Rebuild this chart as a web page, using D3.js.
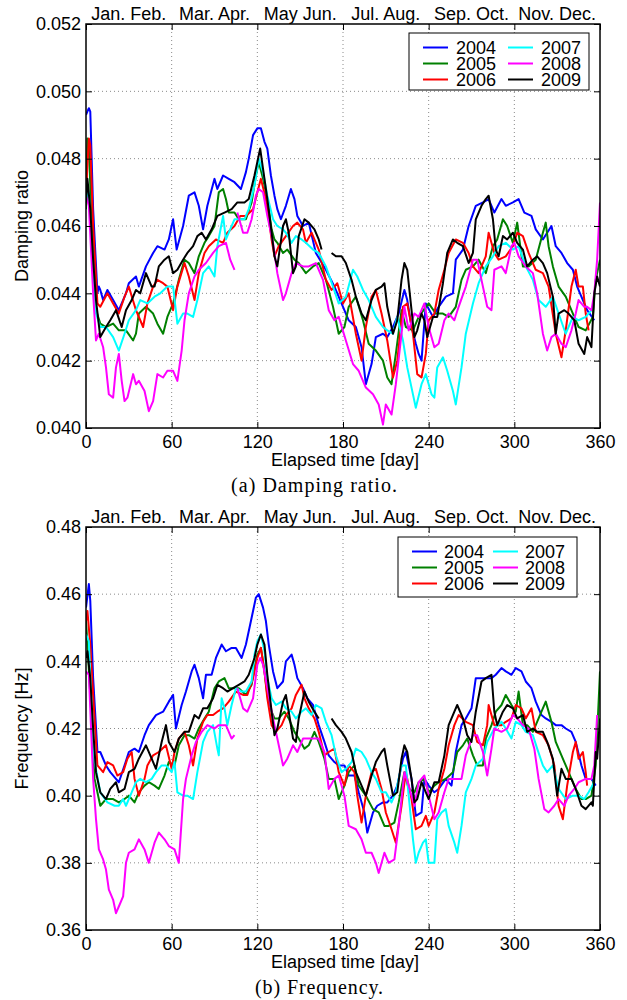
<!DOCTYPE html>
<html>
<head>
<meta charset="utf-8">
<style>
	body { margin: 0; background: #fff; }
	svg text { font-family: "Liberation Sans", Arial, Helvetica, sans-serif; fill: #000; }
	svg text.caption { font-family: "Liberation Serif", "Times New Roman", serif; }
</style>
</head>
<body>
<svg class="chart" width="627" height="1000"></svg>

<script src="https://d3js.org/d3.v7.min.js"></script>
<script>

// damping ratio, [day, value] per year
var damp2004 = [[0,.0493],[2,.0495],[3,.0494],[5,.0465],[8,.0440],[9,.0442],[10,.0441],[12,.0438],[15,.0441],[19,.0438],[23,.0435],[28,.0440],[30,.0443],[35,.0445],[37,.0442],[42,.0448],[47,.0452],[50,.0454],[55,.0453],[58,.0456],[61,.0462],[63.5,.0453],[68,.0460],[72,.0469],[76,.0470],[79,.0466],[82,.0459],[85,.0466],[90,.0474],[92,.0471],[96,.0475],[100,.0474],[104,.0473],[108.5,.0471],[112,.0476],[114,.0480],[117,.0487],[120,.0489],[122.5,.0489],[125,.0485],[127,.0483],[129.5,.0475],[132,.0469],[134,.0465],[136.5,.0462],[140,.0466],[143.5,.0471],[146,.0468],[148,.0463],[152,.0460],[156,.0461],[161,.0452],[168,.0447],[174,.0442],[180,.0436],[184,.0432],[189,.0430],[193,.0424],[196,.0413],[200,.0419],[203,.0427],[208,.0428],[211,.0427],[215,.0430],[219,.0434],[223,.0441],[225,.0438],[228,.0430],[231,.0425],[233,.0422],[235,.0420],[238,.0437],[243,.0433],[247,.0436],[252,.0439],[257,.0440],[259,.0450],[264,.0453],[268,.0460],[273,.0466],[278,.0467],[282,.0468],[286,.0464],[291,.0468],[294,.0466],[299,.0467],[303,.0468],[307,.0464],[312,.0463],[315,.0459],[320,.0456],[326,.0460],[329,.0454],[333,.0452],[337,.0449],[341,.0447],[344,.0442],[348,.0438],[351,.0435],[356,.0432]];
var damp2005 = [[0,.0465],[1,.0486],[2,.0484],[4,.0460],[7,.0435],[10,.0431],[14,.0430],[19,.0431],[23,.0429],[28,.0429],[33,.0426],[35,.0428],[37,.0434],[42,.0436],[47,.0434],[50,.0431],[54,.0428],[57,.0433],[61,.0437],[65,.0444],[69,.0450],[72,.0449],[76,.0446],[79,.0451],[83,.0455],[86,.0457],[90,.0460],[93,.0470],[96,.0471],[98,.0468],[100,.0464],[104,.0464],[107,.0462],[112,.0462],[116,.0467],[119,.0475],[121,.0479],[124,.0474],[127,.0468],[130,.0459],[132,.0456],[134,.0455],[138,.0452],[141,.0453],[146,.0450],[149,.0449],[154,.0446],[159,.0448],[163,.0449],[168,.0444],[173,.0436],[177,.0428],[181,.0430],[184,.0436],[189,.0439],[194,.0432],[198,.0425],[203,.0423],[208,.0420],[211,.0415],[214,.0413],[217,.0422],[221,.0435],[224,.0430],[229,.0429],[233,.0433],[238,.0436],[240,.0437],[245,.0434],[250,.0434],[254,.0433],[259,.0436],[263,.0444],[266,.0447],[271,.0448],[275,.0450],[280,.0446],[285,.0454],[288,.0456],[292,.0462],[295,.0460],[299,.0455],[302,.0461],[306,.0448],[310,.0448],[315,.0450],[320,.0458],[322,.0461],[324,.0454],[327,.0448],[331,.0442],[336,.0439],[341,.0434],[345,.0430],[350,.0429],[355,.0433],[357,.0444],[360,.0450]];
var damp2006 = [[0,.0470],[2,.0486],[3,.0484],[5,.0460],[8,.0437],[10,.0436],[15,.0440],[19,.0437],[23,.0434],[27,.0439],[30,.0442],[35,.0435],[40,.0430],[43,.0437],[47,.0442],[50,.0444],[54,.0443],[57,.0442],[61,.0435],[64,.0442],[69,.0449],[72,.0445],[76,.0438],[79,.0446],[83,.0452],[86,.0454],[91,.0456],[96,.0455],[99,.0458],[104,.0460],[108,.0463],[112,.0463],[117,.0465],[120,.0470],[122.5,.0474],[126,.0468],[130,.0456],[132,.0451],[135,.0454],[140,.0457],[145,.0460],[148,.0461],[152,.0459],[154,.0455],[158,.0458],[161,.0455],[163,.0453],[168,.0444],[172,.0441],[176,.0443],[180,.0437],[184,.0440],[189,.0428],[193,.0420],[196,.0430],[200,.0439],[203,.0441],[207,.0434],[211,.0426],[215,.0415],[218,.0420],[222,.0436],[225,.0437],[229,.0428],[232,.0416],[235,.0415],[238,.0422],[240,.0432],[244,.0434],[247,.0441],[251,.0447],[254,.0452],[259,.0456],[264,.0455],[268,.0452],[271,.0448],[275,.0446],[280,.0451],[282,.0458],[286,.0452],[289,.0450],[294,.0451],[299,.0454],[302,.0458],[306,.0457],[310,.0452],[315,.0447],[320,.0446],[324,.0442],[329,.0428],[333,.0421],[336,.0429],[340,.0442],[343,.0447],[345,.0442],[348,.0442],[350,.0434],[352,.0429]];
var damp2007 = [[0,.0468],[2,.0470],[4,.0455],[7,.0434],[10,.0430],[14,.0430],[19,.0427],[23,.0423],[27,.0428],[30,.0432],[35,.0435],[38,.0438],[43,.0437],[48,.0439],[52,.0440],[57,.0442],[61,.0442],[64,.0431],[68,.0434],[71,.0434],[75,.0433],[78,.0438],[82,.0446],[86,.0448],[90,.0445],[92,.0454],[96,.0463],[98,.0456],[100,.0458],[104,.0462],[107,.0462],[111,.0462],[114,.0465],[118,.0472],[121,.0480],[124,.0476],[127,.0469],[131,.0462],[134,.0460],[138,.0459],[140,.0458],[144,.0455],[147,.0457],[151,.0456],[154,.0455],[159,.0453],[163,.0452],[168,.0448],[173,.0442],[177,.0437],[182,.0439],[187,.0447],[190,.0445],[194,.0441],[198,.0438],[203,.0433],[208,.0430],[211,.0429],[215,.0428],[218,.0433],[222,.0426],[225,.0418],[229,.0410],[231,.0406],[235,.0413],[238,.0416],[242,.0410],[244,.0409],[246,.0418],[250,.0421],[253,.0417],[257,.0411],[259,.0407],[263,.0418],[266,.0428],[271,.0437],[275,.0443],[280,.0448],[285,.0451],[289,.0454],[294,.0455],[299,.0453],[303,.0454],[308,.0448],[313,.0444],[317,.0438],[322,.0436],[327,.0439],[331,.0434],[336,.0428],[341,.0433],[345,.0432],[350,.0433],[354,.0435]];
var damp2008 = [[0,.0469],[2,.0466],[5,.0440],[7,.0426],[9,.0428],[12,.0424],[14,.0418],[16,.0410],[19,.0409],[21,.0418],[23,.0422],[25,.0414],[27,.0408],[29,.0409],[33,.0416],[35,.0413],[37,.0414],[41,.0411],[44,.0405],[47,.0408],[50,.0416],[54,.0415],[57,.0417],[61,.0417],[64,.0414],[67,.0423],[69,.0432],[72,.0440],[76,.0445],[79,.0447],[84,.0449],[89,.0452],[93,.0454],[98,.0455],[101,.0450],[104,.0447],[105,null],[106,.0464],[110,.0458],[113,.0458],[116,.0462],[119,.0469],[121,.0471],[124,.0470],[127,.0463],[131,.0455],[134,.0446],[138,.0438],[140,.0440],[144,.0446],[147,.0449],[152,.0448],[156,.0448],[161,.0449],[166,.0444],[170,.0435],[174,.0432],[177,.0433],[182,.0426],[187,.0419],[191,.0417],[196,.0412],[201,.0410],[205,.0407],[208,.0401],[210,.0407],[214,.0404],[217,.0413],[221,.0428],[223,.0436],[226,.0429],[230,.0434],[233,.0433],[237,.0437],[240,.0430],[244,.0424],[247,.0425],[251,.0432],[254,.0434],[258,.0432],[261,.0436],[266,.0442],[271,.0450],[274,.0450],[278,.0442],[281,.0436],[284,.0435],[286,.0447],[291,.0448],[294,.0446],[298,.0454],[300,.0455],[303,.0451],[308,.0448],[313,.0446],[316,.0440],[320,.0428],[323,.0423],[326,.0427],[329,.0428],[333,.0425],[336,.0424],[340,.0429],[343,.0434],[345,.0438],[349,.0436],[351,.0436],[354,.0435],[356,.0440],[358,.0450],[360,.0467]];
var damp2009 = [[0,.0467],[1,.0474],[3,.0465],[5,.0450],[7,.0438],[10,.0427],[14,.0430],[17,.0432],[21,.0435],[25,.0430],[28,.0435],[32,.0438],[35,.0441],[38,.0440],[42,.0446],[46,.0442],[48,.0442],[51,.0448],[55,.0450],[58,.0451],[61,.0446],[64,.0447],[68,.0450],[71,.0452],[75,.0454],[78,.0457],[81,.0458],[84,.0456],[88,.0459],[92,.0463],[97,.0464],[102,.0465],[106,.0467],[111,.0467],[114,.0468],[118,.0475],[120,.0479],[122,.0483],[124,.0477],[127,.0468],[130,.0458],[132,.0451],[134,.0448],[138,.0460],[140,.0462],[142,.0458],[145,.0446],[147,.0448],[149,.0457],[153,.0462],[156,.0461],[160,.0459],[163,.0456],[165,.0453],[168,null],[172,.0452],[175,.0451],[179,.0451],[182,.0449],[186,.0444],[189,.0439],[193,.0434],[196,.0432],[200,.0438],[203,.0441],[207,.0442],[209,.0443],[211,.0436],[215,.0428],[218,.0432],[221,.0444],[223,.0449],[225,.0447],[228,.0435],[230,.0427],[232,.0429],[235,.0434],[237,.0432],[239,.0427],[243,.0433],[246,.0433],[250,.0443],[253,.0452],[257,.0456],[260,.0455],[264,.0454],[268,.0449],[271,.0452],[273,.0462],[277,.0466],[280,.0468],[282,.0469],[285,.0462],[287,.0453],[289,.0451],[292,.0457],[295,.0456],[299,.0458],[302,.0455],[306,.0453],[309,.0448],[313,.0450],[316,.0451],[320,.0449],[323,.0446],[327,.0439],[329,.0428],[331,.0434],[335,.0435],[338,.0434],[342,.0432],[345,.0425],[349,.0422],[351,.0427],[354,.0424],[356,.0440],[358,.0445],[360,.0442]];

// frequency [Hz], [day, value] per year
var freq2004 = [[0,.456],[2,.463],[3,.458],[5,.435],[8,.413],[10,.413],[14,.409],[17,.407],[21,.405],[23,.404],[27,.409],[30,.413],[34,.414],[37,.413],[41,.418],[44,.421],[49,.424],[54,.425],[58,.428],[61,.430],[63,.420],[67,.427],[70,.431],[74,.437],[76,.439],[79,.435],[82,.429],[84,.436],[88,.436],[91,.441],[95,.445],[98,.443],[102,.444],[105,.444],[109,.441],[112,.445],[116,.453],[119,.459],[121,.460],[124,.456],[126,.452],[128,.445],[131,.437],[134,.432],[138,.434],[140,.440],[144,.442],[146,.439],[148,.435],[152,.432],[155,.429],[159,.427],[163,.421],[167,.416],[170,.412],[174,.410],[177,.409],[181,.409],[184,.406],[188,.406],[191,.401],[195,.395],[197,.389],[201,.395],[204,.397],[208,.398],[211,.398],[215,.400],[218,.403],[222,.411],[224,.413],[228,.405],[231,.394],[235,.395],[237,.405],[240,.403],[244,.401],[247,.402],[252,.405],[256,.403],[259,.413],[263,.421],[266,.423],[270,.426],[273,.435],[277,.435],[280,.435],[284,.435],[287,.436],[291,.438],[294,.437],[298,.436],[301,.438],[305,.437],[308,.434],[312,.432],[315,.428],[319,.424],[322,.423],[326,.422],[329,.421],[333,.421],[336,.420],[340,.419],[343,.416],[347,.409],[350,.405],[354,.405],[357,.403]];
var freq2005 = [[0,.452],[1,.445],[3,.430],[6,.405],[10,.397],[14,.399],[19,.399],[23,.398],[27,.399],[30,.400],[34,.398],[37,.401],[41,.403],[44,.404],[48,.403],[51,.402],[55,.406],[58,.410],[62,.409],[65,.415],[69,.418],[72,.418],[76,.417],[79,.420],[83,.423],[86,.425],[90,.432],[93,.434],[97,.435],[100,.432],[104,.432],[107,.432],[112,.430],[116,.433],[118,.438],[120,.442],[122.5,.444],[125,.437],[127,.430],[130,.425],[132,.423],[135,.423],[139,.425],[142,.423],[146,.419],[149,.417],[153,.414],[156,.415],[160,.419],[163,.416],[167,.411],[170,.405],[174,.405],[177,.399],[181,.403],[184,.407],[188,.409],[191,.403],[196,.400],[201,.396],[205,.395],[209,.391],[212,.391],[216,.392],[219,.398],[223,.407],[226,.402],[230,.401],[233,.404],[237,.405],[240,.401],[244,.403],[247,.404],[252,.405],[257,.407],[260,.413],[264,.415],[267,.417],[271,.412],[274,.409],[278,.409],[280,.417],[284,.421],[287,.425],[291,.427],[294,.430],[298,.427],[301,.425],[303,.431],[306,.421],[309,.421],[313,.419],[317,.423],[322,.428],[326,.422],[329,.416],[333,.412],[336,.409],[340,.405],[343,.402],[347,.399],[350,.399],[354,.400],[357,.409],[360,.437]];
var freq2006 = [[0,.452],[1,.455],[3,.445],[5,.430],[8,.409],[12,.407],[15,.410],[19,.409],[22,.406],[26,.407],[29,.411],[32,.413],[34,.405],[37,.400],[41,.405],[43,.409],[47,.412],[51,.413],[56,.415],[60,.408],[62,.413],[65,.417],[69,.419],[72,.415],[75,.409],[78,.417],[82,.422],[85,.424],[89,.424],[92,.425],[96,.426],[100,.428],[105,.431],[110,.430],[113,.430],[117,.435],[120,.441],[122.5,.444],[125,.437],[127,.429],[130,.421],[133,.419],[137,.421],[140,.424],[144,.426],[147,.430],[151,.433],[153,.429],[156,.426],[160,.423],[163,.419],[167,.412],[170,.413],[174,.414],[177,.407],[181,.403],[184,.409],[188,.407],[190,.400],[193,.392],[196,.400],[200,.407],[203,.408],[207,.402],[210,.395],[214,.390],[217,.386],[221,.397],[224,.407],[228,.399],[231,.390],[235,.391],[238,.394],[240,.391],[244,.395],[247,.402],[251,.408],[254,.415],[258,.421],[261,.424],[266,.422],[271,.421],[274,.416],[278,.415],[281,.421],[282,.427],[286,.421],[291,.421],[294,.422],[298,.423],[301,.427],[305,.426],[308,.423],[312,.426],[315,.419],[320,.418],[324,.415],[328,.409],[331,.397],[334,.393],[337,.403],[341,.413],[343,.416],[345,.411],[348,.413],[350,.407],[351,.403]];
var freq2007 = [[0,.448],[2,.446],[4,.425],[6,.410],[10,.401],[15,.398],[20,.397],[23,.397],[26,.399],[28,.397],[32,.401],[35,.404],[38,.405],[42,.404],[46,.405],[49,.407],[53,.409],[56,.409],[60,.407],[62,.410],[64,.401],[68,.400],[71,.400],[75,.399],[78,.407],[82,.416],[85,.419],[89,.421],[92,.414],[93,.412],[95,.429],[97,.426],[99,.421],[102,.427],[105,.432],[109,.431],[112,.431],[116,.434],[118,.442],[120,.446],[122.5,.448],[125,.443],[127,.435],[130,.429],[133,.427],[137,.428],[140,.426],[144,.425],[147,.423],[151,.425],[154,.426],[158,.424],[161,.427],[165,.426],[168,.422],[172,.418],[175,.412],[179,.407],[182,.408],[186,.410],[189,.414],[193,.413],[196,.411],[200,.407],[203,.405],[207,.401],[210,.401],[214,.398],[217,.401],[221,.409],[224,.409],[226,.400],[229,.387],[231,.380],[233,.383],[236,.386],[238,.387],[240,.380],[244,.380],[246,.393],[249,.395],[252,.396],[254,.391],[258,.386],[260,.383],[263,.391],[266,.401],[270,.405],[273,.409],[278,.411],[281,.416],[286,.420],[291,.422],[294,.420],[298,.417],[301,.422],[305,.421],[308,.419],[313,.418],[316,.414],[320,.409],[323,.407],[327,.409],[331,.402],[336,.399],[341,.400],[345,.400],[349,.399],[352,.401],[356,.404]];
var freq2008 = [[0,.437],[2,.436],[5,.405],[7,.393],[9,.384],[12,.381],[14,.378],[16,.372],[19,.369],[21,.365],[23,.367],[26,.370],[28,.380],[30,.383],[34,.384],[37,.387],[41,.384],[44,.380],[48,.386],[51,.389],[55,.387],[58,.385],[62,.384],[65,.380],[68,.399],[70,.405],[74,.412],[77,.416],[81,.419],[85,.421],[90,.420],[93,.421],[98,.421],[102,.417],[104,.418],[105,null],[106,.432],[110,.426],[113,.425],[117,.429],[120,.439],[122,.441],[124,.439],[127,.432],[131,.423],[134,.417],[138,.409],[141,.411],[145,.415],[148,.413],[152,.417],[155,.417],[159,.417],[163,.417],[167,.413],[170,.402],[174,.405],[177,.406],[181,.400],[184,.391],[189,.390],[193,.387],[196,.383],[200,.383],[203,.380],[205,.377],[209,.383],[212,.380],[216,.381],[219,.391],[223,.407],[226,.403],[230,.397],[233,.404],[237,.406],[240,.400],[244,.393],[247,.395],[251,.401],[254,.405],[259,.405],[263,.405],[266,.412],[271,.418],[274,.418],[278,.413],[281,.406],[284,.414],[286,.420],[291,.419],[295,.420],[299,.424],[302,.423],[306,.421],[310,.420],[314,.414],[317,.405],[321,.396],[324,.395],[328,.397],[331,.399],[335,.397],[338,.400],[342,.402],[345,.404],[350,.405],[354,.405],[356,.409],[358,.424]];
var freq2009 = [[0,.441],[1,.443],[3,.435],[5,.420],[7,.407],[10,.401],[14,.399],[17,.402],[21,.404],[23,.401],[27,.402],[30,.407],[34,.408],[37,.411],[42,.415],[46,.411],[49,.408],[53,.416],[56,.421],[58,.416],[62,.413],[65,.417],[69,.419],[72,.419],[76,.424],[79,.423],[82,.426],[85,.426],[89,.429],[92,.433],[96,.432],[99,.431],[103,.432],[107,.433],[111,.434],[114,.436],[118,.441],[120,.445],[122.5,.448],[125,.445],[127,.436],[130,.425],[132,.418],[134,.420],[138,.428],[140,.430],[142,.425],[145,.417],[147,.416],[149,.423],[153,.431],[156,.428],[160,.425],[163,.423],[168,null],[172,.423],[175,.421],[179,.419],[182,.417],[186,.413],[189,.407],[193,.403],[196,.400],[200,.406],[203,.410],[207,.413],[209,.414],[211,.409],[215,.400],[218,.401],[221,.411],[223,.415],[225,.413],[228,.405],[230,.398],[232,.399],[235,.404],[237,.402],[240,.399],[244,.404],[247,.404],[251,.412],[254,.421],[258,.425],[260,.427],[264,.423],[267,.418],[270,.416],[273,.425],[277,.434],[280,.435],[284,.436],[286,.425],[288,.421],[292,.425],[295,.427],[299,.426],[302,.423],[306,.424],[309,.419],[313,.420],[316,.419],[320,.419],[323,.416],[327,.411],[330,.400],[333,.408],[336,.405],[340,.405],[343,.402],[347,.397],[350,.396],[354,.398],[355,.397],[357,.413],[358,.411],[360,.423]];

var years = ["2004", "2005", "2006", "2007", "2008", "2009"];
var colors = ["#0000ff", "#008000", "#ff0000", "#00ffff", "#ff00ff", "#000000"];
var monthLabels = ["Jan. Feb.", "Mar. Apr.", "May Jun.", "Jul. Aug.", "Sep. Oct.", "Nov. Dec."];
var dayTicks = [0, 60, 120, 180, 240, 300, 360];
var dampTicks = [0.040, 0.042, 0.044, 0.046, 0.048, 0.050, 0.052];
var freqTicks = [0.36, 0.38, 0.40, 0.42, 0.44, 0.46, 0.48];

var svg = d3.select(".chart");

function drawPanel(p) {
	var x = d3.scaleLinear().domain([0, 360]).range([p.left, p.right]);
	var y = d3.scaleLinear().domain([p.ticks[0], p.ticks[p.ticks.length - 1]]).range([p.bottom, p.top]);
	var g = svg.append("g");

	// dotted grid
	g.append("g").selectAll("line")
		.data(dayTicks.slice(1, -1))
		.enter().append("line")
		.attr("x1", function(d) { return x(d); }).attr("x2", function(d) { return x(d); })
		.attr("y1", p.top).attr("y2", p.bottom)
		.attr("stroke", "#8a8a8a").attr("stroke-dasharray", "1,3");
	g.append("g").selectAll("line")
		.data(p.ticks.slice(1, -1))
		.enter().append("line")
		.attr("y1", function(d) { return y(d); }).attr("y2", function(d) { return y(d); })
		.attr("x1", p.left).attr("x2", p.right)
		.attr("stroke", "#8a8a8a").attr("stroke-dasharray", "1,3");

	// series
	svg.append("clipPath").attr("id", p.id + "clip")
		.append("rect").attr("x", p.left).attr("y", p.top)
		.attr("width", p.right - p.left).attr("height", p.bottom - p.top);
	var line = d3.line()
		.defined(function(d) { return d[1] != null; })
		.x(function(d) { return x(d[0]); })
		.y(function(d) { return y(d[1]); });
	g.append("g").attr("clip-path", "url(#" + p.id + "clip)")
		.selectAll("path")
		.data(p.series)
		.enter().append("path")
		.attr("d", line)
		.attr("fill", "none")
		.attr("stroke", function(d, i) { return colors[i]; })
		.attr("stroke-width", 2)
		.attr("stroke-linejoin", "round");

	// axes, ticks pointing inside
	var fmt = d3.format(p.fmt);
	g.append("g").attr("transform", "translate(" + p.left + ",0)")
		.call(d3.axisLeft(y).tickValues(p.ticks).tickFormat(fmt).tickSize(-6).tickPadding(5));
	g.append("g").attr("transform", "translate(" + p.right + ",0)")
		.call(d3.axisRight(y).tickValues(p.ticks).tickFormat("").tickSize(-6));
	g.append("g").attr("transform", "translate(0," + p.bottom + ")")
		.call(d3.axisBottom(x).tickValues(dayTicks).tickFormat(d3.format("d")).tickSize(-6).tickPadding(7));
	g.append("g").attr("transform", "translate(0," + p.top + ")")
		.call(d3.axisTop(x).tickValues(dayTicks).tickFormat("").tickSize(-6));
	g.selectAll(".domain").remove();
	g.selectAll(".tick line").attr("stroke", "#000");
	g.selectAll(".tick text").attr("font-size", 18).attr("font-family", null);

	g.append("rect")
		.attr("x", p.left).attr("y", p.top)
		.attr("width", p.right - p.left).attr("height", p.bottom - p.top)
		.attr("fill", "none").attr("stroke", "#000").attr("stroke-width", 1.5);

	// month names along the top
	g.append("g").selectAll("text")
		.data(monthLabels)
		.enter().append("text")
		.attr("x", function(d, i) { return x(i * 60 + 30); })
		.attr("y", p.top - 4.5)
		.attr("text-anchor", "middle")
		.attr("font-size", 18)
		.text(function(d) { return d; });

	g.append("text")
		.attr("x", (p.left + p.right) / 2 + 2)
		.attr("y", p.bottom + 38)
		.attr("text-anchor", "middle")
		.attr("font-size", 18)
		.text("Elapsed time [day]");
	g.append("text")
		.attr("transform", "translate(28," + (p.top + p.bottom) / 2 + ") rotate(-90)")
		.attr("text-anchor", "middle")
		.attr("font-size", 18)
		.text(p.ylabel);
	g.append("text")
		.attr("class", "caption")
		.attr("x", p.capX)
		.attr("y", p.bottom + 63.5)
		.attr("font-size", 20)
		.attr("textLength", p.capW)
		.attr("lengthAdjust", "spacing")
		.text(p.caption);

	// legend
	var L = p.legend;
	var lg = g.append("g").attr("transform", "translate(" + L.x + "," + L.y + ")");
	lg.append("rect").attr("width", L.w).attr("height", L.h)
		.attr("fill", "#fff").attr("stroke", "#000").attr("stroke-width", 1);
	var item = lg.selectAll("g.item")
		.data(years)
		.enter().append("g")
		.attr("transform", function(d, i) {
			return "translate(" + (i < 3 ? 0 : L.col2) + "," + (14.5 + (i % 3) * 16) + ")";
		});
	item.append("line")
		.attr("x1", 14).attr("x2", 39)
		.attr("stroke", function(d, i) { return colors[i]; })
		.attr("stroke-width", 2);
	item.append("text")
		.attr("x", L.tx).attr("dy", "0.36em")
		.attr("font-size", 18)
		.text(function(d) { return d; });
}

drawPanel({
	id: "a", left: 86, right: 600, top: 24, bottom: 428,
	ticks: dampTicks, fmt: ".3f", ylabel: "Damping ratio",
	series: [damp2004, damp2005, damp2006, damp2007, damp2008, damp2009],
	caption: "(a)  Damping ratio.", capX: 231, capW: 166,
	legend: { x: 409, y: 33, w: 180, h: 57, col2: 85, tx: 47 }
});

drawPanel({
	id: "b", left: 86, right: 600, top: 527, bottom: 930,
	ticks: freqTicks, fmt: ".2f", ylabel: "Frequency [Hz]",
	series: [freq2004, freq2005, freq2006, freq2007, freq2008, freq2009],
	caption: "(b)  Frequency.", capX: 255, capW: 128,
	legend: { x: 398, y: 537, w: 179, h: 60, col2: 81, tx: 46 }
});

</script>
</body>
</html>
